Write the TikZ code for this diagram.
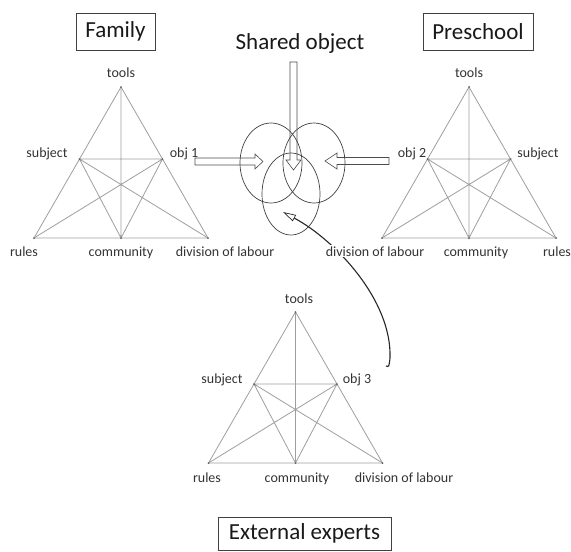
\documentclass[tikz,border=0pt]{standalone}
\usepackage{fontspec}
\setmainfont{Carlito}
\usetikzlibrary{arrows.meta}

\begin{document}
\begin{tikzpicture}[x=1pt,y=-1pt,
    tri/.style={draw=black!38, line width=0.8pt},
    vtx/.style={fill=black!60},
    lbl/.style={text=black!80, font=\fontsize{14}{16}\selectfont, anchor=base, inner sep=0pt},
    title/.style={text=black!90, font=\fontsize{23}{26}\selectfont},
    titlebox/.style={title, draw=black!75, line width=0.8pt, minimum height=37pt},
    blockarr/.style={draw=black!70, line width=0.6pt},
    objring/.style={draw=black!75, line width=0.7pt}]
  \useasboundingbox (0,0) rectangle (571,552);

  % titles
  \node[titlebox, minimum width=79pt] (family) at (115.5,31.5) {Family};
  \node[title] (shared) at (300,43) {Shared object};
  \node[titlebox, minimum width=110pt] (preschool) at (478,31.5) {Preschool};
  \node[titlebox, minimum width=173pt, minimum height=33pt] (experts) at (304.5,533.5) {External experts};

  % Family
  \coordinate (ft) at (121,87);
  \coordinate (fs) at (79.5,159);
  \coordinate (fo) at (162.5,159);
  \coordinate (fr) at (34,238);
  \coordinate (fc) at (121,238);
  \coordinate (fd) at (208,238);
  \draw[tri] (ft) -- (fr) -- (fd) -- cycle;
  \draw[tri] (ft) -- (fc) (fs) -- (fo) (fs) -- (fc) -- (fo) (fs) -- (fd) (fo) -- (fr);
  \foreach \p in {ft,fs,fo,fr,fc,fd} \fill[vtx] (\p) circle (1pt);

  % Preschool
  \coordinate (pt) at (469,87);
  \coordinate (po) at (427.5,159);
  \coordinate (ps) at (510.5,159);
  \coordinate (pd) at (382,238);
  \coordinate (pc) at (469,238);
  \coordinate (pr) at (556,238);
  \draw[tri] (pt) -- (pd) -- (pr) -- cycle;
  \draw[tri] (pt) -- (pc) (po) -- (ps) (po) -- (pc) -- (ps) (po) -- (pr) (ps) -- (pd);
  \foreach \p in {pt,po,ps,pd,pc,pr} \fill[vtx] (\p) circle (1pt);

  % External experts
  \coordinate (et) at (295.5,312);
  \coordinate (es) at (254,384);
  \coordinate (eo) at (337,384);
  \coordinate (er) at (208.5,463);
  \coordinate (ec) at (295.5,463);
  \coordinate (ed) at (382.5,463);
  \draw[tri] (et) -- (er) -- (ed) -- cycle;
  \draw[tri] (et) -- (ec) (es) -- (eo) (es) -- (ec) -- (eo) (es) -- (ed) (eo) -- (er);
  \foreach \p in {et,es,eo,er,ec,ed} \fill[vtx] (\p) circle (1pt);

  % shared object
  \draw[objring] (271,163) ellipse [x radius=31pt, y radius=40pt];
  \draw[objring] (314,163) ellipse [x radius=31pt, y radius=40pt];
  \draw[objring] (291,194) ellipse [x radius=29pt, y radius=41pt];

  \draw[blockarr] (290,62) -- (290,160) -- (286,160) -- (293.5,170) -- (301,160) -- (297,160) -- (297,62) -- cycle;
  \draw[blockarr] (195,158) -- (255,158) -- (255,154) -- (263,161.5) -- (255,169) -- (255,165) -- (195,165) -- cycle;
  \draw[blockarr] (389,157.5) -- (337,157.5) -- (337,153) -- (325,161) -- (337,169) -- (337,164.5) -- (389,164.5) -- cycle;

  \coordinate (curl) at (386,366);
  \coordinate (tail) at (390,358);
  \coordinate (tip) at (283,212);
  \draw[line width=1.1pt, black!85, -{Triangle[open, length=13pt, width=7pt, line width=0.7pt]}]
    (curl) .. controls (389,367) .. (tail) .. controls (392,300) and (335,240) .. (tip);

  % labels
  \node[lbl] (ftl) at (121,77) {tools};
  \node[lbl] (fsl) at (47,157) {subject};
  \node[lbl] (fol) at (184,157) {obj 1};
  \node[lbl] (frl) at (24,256) {rules};
  \node[lbl] (fcl) at (121,256) {community};
  \node[lbl] (fdl) at (225,256) {division of labour};

  \node[lbl] (ptl) at (469,77) {tools};
  \node[lbl] (pol) at (412,157) {obj 2};
  \node[lbl] (psl) at (538,157) {subject};
  \node[lbl, fill=white, inner sep=1pt] (pdl) at (375,256) {division of labour};
  \node[lbl] (pcl) at (476,256) {community};
  \node[lbl] (prl) at (557,256) {rules};

  \node[lbl] (etl) at (299,303) {tools};
  \node[lbl] (esl) at (222,383) {subject};
  \node[lbl] (eol) at (357,383) {obj 3};
  \node[lbl] (erl) at (207,482) {rules};
  \node[lbl] (ecl) at (297,482) {community};
  \node[lbl] (edl) at (404,482) {division of labour};
\end{tikzpicture}
\end{document}
